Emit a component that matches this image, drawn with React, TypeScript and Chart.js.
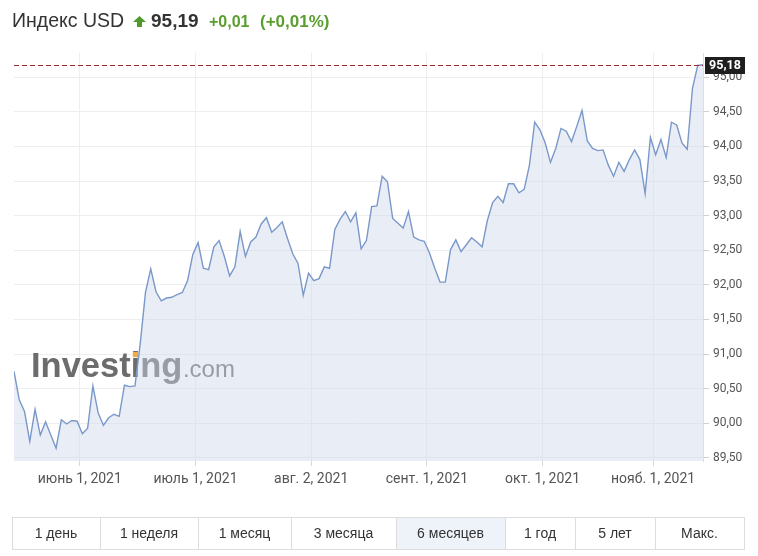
import React, { useEffect, useRef } from 'react';
import { Chart, registerables } from 'chart.js';

Chart.register(...registerables);

// Daily close values of the USD index (trading days, mid-May .. mid-Nov 2021)
const values: number[] = [
  90.75, 90.34, 90.17, 89.74, 90.20, 89.83, 90.02, 89.83, 89.64, 90.05,
  89.99, 90.04, 90.03, 89.85, 89.93, 90.54, 90.15, 89.97, 90.08, 90.13,
  90.10, 90.55, 90.53, 90.54, 91.15, 91.89, 92.23, 91.90, 91.77, 91.81,
  91.82, 91.86, 91.89, 92.06, 92.44, 92.61, 92.24, 92.22, 92.55, 92.64,
  92.41, 92.13, 92.26, 92.77, 92.41, 92.62, 92.69, 92.88, 92.97, 92.76,
  92.83, 92.91, 92.67, 92.45, 92.31, 91.85, 92.17, 92.06, 92.09, 92.26,
  92.24, 92.80, 92.95, 93.06, 92.91, 93.04, 92.52, 92.64, 93.13, 93.14,
  93.57, 93.49, 92.96, 92.89, 92.82, 93.06, 92.69, 92.65, 92.63, 92.46,
  92.24, 92.04, 92.04, 92.51, 92.65, 92.48, 92.58, 92.68, 92.62, 92.55,
  92.93, 93.19, 93.28, 93.19, 93.46, 93.46, 93.33, 93.38, 93.73, 94.35,
  94.24, 94.05, 93.77, 93.97, 94.26, 94.22, 94.07, 94.29, 94.52, 94.08,
  93.97, 93.94, 93.95, 93.73, 93.57, 93.77, 93.64, 93.81, 93.95, 93.81,
  93.32, 94.13, 93.88, 94.10, 93.84, 94.35, 94.31, 94.05, 93.96, 94.84,
  95.17, 95.18,
];

// Month-start tick positions (in trading-day index units) and their labels
const xTickPositions: number[] = [12.5, 34.5, 56.5, 78.5, 100.5, 121.5];
const xTickLabels: string[] = [
  'июнь 1, 2021',
  'июль 1, 2021',
  'авг. 2, 2021',
  'сент. 1, 2021',
  'окт. 1, 2021',
  'нояб. 1, 2021',
];

const yTickValues: number[] = [89.5, 90, 90.5, 91, 91.5, 92, 92.5, 93, 93.5, 94, 94.5, 95];

const lastPrice = 95.18;
const lastPriceLabel = '95,18';

const headerName = 'Индекс USD';
const headerPrice = '95,19';
const headerChange = '+0,01';
const headerChangePct = '(+0,01%)';

const periods: string[] = ['1 день', '1 неделя', '1 месяц', '3 месяца', '6 месяцев', '1 год', '5 лет', 'Макс.'];
const periodEdges: number[] = [12, 100, 198, 291, 396, 505, 575, 655, 744];
const activePeriod = '6 месяцев';

const fmt = (v: number) => v.toFixed(2).replace('.', ',');

const watermarkPlugin = {
  id: 'watermark',
  beforeDatasetsDraw(chart: any) {
    const ctx = chart.ctx as CanvasRenderingContext2D;
    ctx.save();
    const x0 = 31;
    const base = 377;
    ctx.fillStyle = '#6c6c6c';
    ctx.font = 'bold 34.5px "Liberation Sans", Arial, sans-serif';
    ctx.textBaseline = 'alphabetic';
    ctx.fillText('Investing', x0, base);
    const w = ctx.measureText('Investing').width;
    const wi = ctx.measureText('Invest').width;
    const iw = ctx.measureText('i').width;
    ctx.fillStyle = '#f2ad42';
    ctx.fillRect(x0 + wi + iw / 2 - 2.7, base - 25, 5.4, 5.2);
    ctx.fillStyle = '#6c6c6c';
    ctx.font = '24px "Liberation Sans", Arial, sans-serif';
    ctx.fillText('.com', x0 + w + 0.5, base);
    ctx.restore();
  },
};

const priceLinePlugin = {
  id: 'priceLine',
  afterDraw(chart: any) {
    const ctx = chart.ctx as CanvasRenderingContext2D;
    const y = Math.round(chart.scales.y.getPixelForValue(lastPrice)) + 0.5;
    const area = chart.chartArea;
    ctx.save();
    ctx.strokeStyle = '#a0282a';
    ctx.lineWidth = 1;
    ctx.setLineDash([5, 3]);
    ctx.beginPath();
    ctx.moveTo(area.left, y);
    ctx.lineTo(area.right, y);
    ctx.stroke();
    ctx.setLineDash([]);
    ctx.fillStyle = '#1e1e1e';
    ctx.fillRect(area.right + 2, y - 8.5, 40, 17);
    ctx.fillStyle = '#ffffff';
    ctx.font = 'bold 12.5px Roboto, Arial, sans-serif';
    ctx.textAlign = 'center';
    ctx.textBaseline = 'middle';
    ctx.fillText(lastPriceLabel, area.right + 22, y + 0.5);
    ctx.restore();
  },
};

function ChartCanvas() {
  const ref = useRef<HTMLCanvasElement | null>(null);
  useEffect(() => {
    if (!ref.current) return;
    const chart = new Chart(ref.current, {
      type: 'line',
      data: {
        datasets: [
          {
            data: values.map((v, i) => ({ x: i, y: v })),
            borderColor: '#7a98c9',
            borderWidth: 1.4,
            backgroundColor: 'rgba(205,215,236,0.45)',
            fill: 'start',
            pointRadius: 0,
            tension: 0,
          },
        ],
      },
      options: {
        animation: false,
        responsive: false,
        maintainAspectRatio: false,
        layout: { padding: { left: 14, top: 53, right: 0, bottom: 0 } },
        plugins: { legend: { display: false }, tooltip: { enabled: false } },
        scales: {
          x: {
            type: 'linear',
            min: 0,
            max: values.length - 1,
            afterBuildTicks: (s: any) => {
              s.ticks = xTickPositions.map((v) => ({ value: v }));
            },
            afterFit: (s: any) => {
              s.height = 39;
            },
            ticks: {
              autoSkip: false,
              maxRotation: 0,
              minRotation: 0,
              color: '#555555',
              font: { family: 'Roboto, Arial, sans-serif', size: 14 },
              padding: 5,
              callback: (v: any) => {
                const k = xTickPositions.indexOf(Number(v));
                return k >= 0 ? xTickLabels[k] : '';
              },
            },
            grid: { color: '#eeeeee', tickColor: '#d8d8d8', tickLength: 5, drawTicks: true },
            border: { display: false },
          },
          y: {
            position: 'right',
            min: 89.455,
            max: 95.35,
            afterBuildTicks: (s: any) => {
              s.ticks = yTickValues.map((v) => ({ value: v }));
            },
            afterFit: (s: any) => {
              s.width = 55;
            },
            ticks: {
              color: '#555555',
              font: { family: 'Roboto, Arial, sans-serif', size: 12 },
              padding: 4,
              callback: (v: any) => fmt(Number(v)),
            },
            grid: { color: '#eeeeee', tickColor: '#d0d0d0', tickLength: 6 },
            border: { display: true, color: '#dddddd' },
          },
        },
      },
      plugins: [watermarkPlugin, priceLinePlugin],
    } as any);
    return () => chart.destroy();
  }, []);
  return (
    <canvas
      ref={ref}
      width={758}
      height={500}
      style={{ position: 'absolute', left: 0, top: 0, width: 758, height: 500 }}
    />
  );
}

export default function App() {
  const rowTop = 517;
  const rowH = 32;
  return (
    <div style={{ position: 'absolute', left: 0, top: 0, width: 758, height: 556, background: '#ffffff', overflow: 'hidden' }}>
      <ChartCanvas />
      <svg
        width={758}
        height={556}
        style={{ position: 'absolute', left: 0, top: 0, pointerEvents: 'none' }}
        fontFamily='"Liberation Sans", Arial, sans-serif'
      >
        <text x={12} y={27} fontSize={19.5} fill="#333333">{headerName}</text>
        <polygon points="139.5,16 146,22 142,22 142,27 137,27 137,22 133,22" fill="#4f9a2a" />
        <text x={151} y={27} fontSize={19} fontWeight="bold" fill="#333333">{headerPrice}</text>
        <text x={209} y={27} fontSize={16} fontWeight="bold" fill="#5a9e2f">{headerChange}</text>
        <text x={260} y={27} fontSize={17} fontWeight="bold" fill="#5a9e2f">{headerChangePct}</text>

        {periods.map((p, i) => {
          const x0 = periodEdges[i];
          const x1 = periodEdges[i + 1];
          const active = p === activePeriod;
          return (
            <g key={p}>
              <rect
                x={x0 + 0.5}
                y={rowTop + 0.5}
                width={x1 - x0}
                height={rowH}
                fill={active ? '#eef2f9' : '#ffffff'}
                stroke="#dddddd"
                strokeWidth={1}
              />
              <text x={(x0 + x1) / 2} y={rowTop + 21} fontSize={14} textAnchor="middle" fill="#333333">
                {p}
              </text>
            </g>
          );
        })}
      </svg>
    </div>
  );
}
